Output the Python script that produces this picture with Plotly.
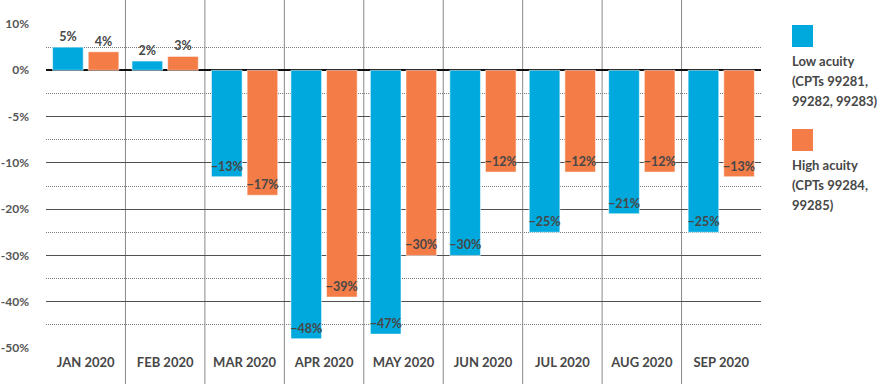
import plotly.graph_objects as go

# ---------------- data ----------------
months = ["JAN 2020", "FEB 2020", "MAR 2020", "APR 2020", "MAY 2020",
          "JUN 2020", "JUL 2020", "AUG 2020", "SEP 2020"]
low_acuity = [5, 2, -13, -48, -47, -30, -25, -21, -25]
high_acuity = [4, 3, -17, -39, -30, -12, -12, -12, -13]
series_names = ["Low acuity (CPTs 99281, 99282, 99283)",
                "High acuity (CPTs 99284, 99285)"]
legend_lines = [["Low acuity", "(CPTs 99281,", "99282, 99283)"],
                ["High acuity", "(CPTs 99284,", "99285)"]]
y_tick_values = [10, 0, -5, -10, -20, -30, -40, -50]
colors = ["#00a9dd", "#f47c47"]

TEXT = "#474747"
FONT = "Lato"


# The original chart uses a piecewise axis: 0 to 10%, 0 to -5%, -5 to -10%
# and every further -10% step each take one equal band.
def scale(v):
    if v >= 0:
        return v / 10.0
    if v >= -10:
        return v / 5.0
    return -2.0 + (v + 10) / 10.0


def fmt(v):
    return f"{v}%".replace("-", "\u2212")


fig = go.Figure()
for name, vals, col in zip(series_names, [low_acuity, high_acuity], colors):
    fig.add_trace(go.Bar(
        name=name,
        x=months,
        y=[scale(v) for v in vals],
        text=[fmt(v) for v in vals],
        textposition=["outside" if v > 0 else "inside" for v in vals],
        insidetextanchor="end",
        textangle=0,
        constraintext="none",
        cliponaxis=False,
        textfont=dict(family=FONT, size=12.5, color=TEXT, weight="bold"),
        marker=dict(color=col, line=dict(color="rgba(255,255,255,0.55)", width=1)),
        hovertemplate="%{x}: %{text}<extra>" + name + "</extra>",
        showlegend=False,
    ))

# plot area geometry (pixels) for paper-space layout items
W, H = 877, 384
ML, MR, MT, MB = 46, 116, 24, 36
PW, PH = W - ML - MR, H - MT - MB


def px_x(x):
    return (x - ML) / PW


def px_y(y):
    return (H - MB - y) / PH


shapes = []
# vertical category separators spanning the full height
for i in range(len(months) - 1):
    shapes.append(dict(type="line", xref="x", yref="paper",
                       x0=i + 0.5, x1=i + 0.5, y0=px_y(H), y1=px_y(0),
                       line=dict(color="#8a8a8a", width=1), layer="below"))

annotations = []
# custom legend: colour square above wrapped label
legend_tops = [25, 129]
for k, (lines, col) in enumerate(zip(legend_lines, colors)):
    top = legend_tops[k]
    shapes.append(dict(type="rect", xref="paper", yref="paper",
                       x0=px_x(792), x1=px_x(813), y0=px_y(top + 22), y1=px_y(top),
                       fillcolor=col, line=dict(width=0)))
    for j, line in enumerate(lines):
        annotations.append(dict(xref="paper", yref="paper", x=px_x(791),
                                y=px_y(top + 36 + 20 * j), xanchor="left", yanchor="middle",
                                text=line, showarrow=False, xshift=-1,
                                font=dict(family=FONT, size=13, color=TEXT, weight="bold")))

fig.update_layout(
    width=W, height=H,
    margin=dict(l=ML, r=MR, t=MT, b=MB, autoexpand=False),
    paper_bgcolor="white", plot_bgcolor="white",
    barmode="group", bargap=0.103, bargroupgap=0.14,
    font=dict(family=FONT, color=TEXT),
    shapes=shapes,
    annotations=annotations,
    showlegend=False,
    xaxis=dict(
        automargin=False,
        showgrid=False, zeroline=False, showline=False, ticks="",
        tickfont=dict(family=FONT, size=13, color=TEXT, weight="bold"),
        ticklabelstandoff=5,
    ),
    yaxis=dict(
        automargin=False,
        range=[scale(-50), scale(10)],
        tickmode="array",
        tickvals=[scale(v) for v in y_tick_values],
        ticktext=[f"{v}%" for v in y_tick_values],
        tickfont=dict(family=FONT, size=12, color="#555555", weight="bold"),
        ticklabelstandoff=16,
        showgrid=True, gridcolor="#505050", gridwidth=1.2,
        zeroline=True, zerolinecolor="#111111", zerolinewidth=2,
        showline=False, ticks="",
        minor=dict(dtick=0.5, tick0=0, showgrid=True, gridcolor="#7a7a7a",
                   griddash="1px,1px", gridwidth=1),
    ),
)

fig.write_html("out.html", config={"displayModeBar": False},
               post_script="document.body.style.margin='0';")
